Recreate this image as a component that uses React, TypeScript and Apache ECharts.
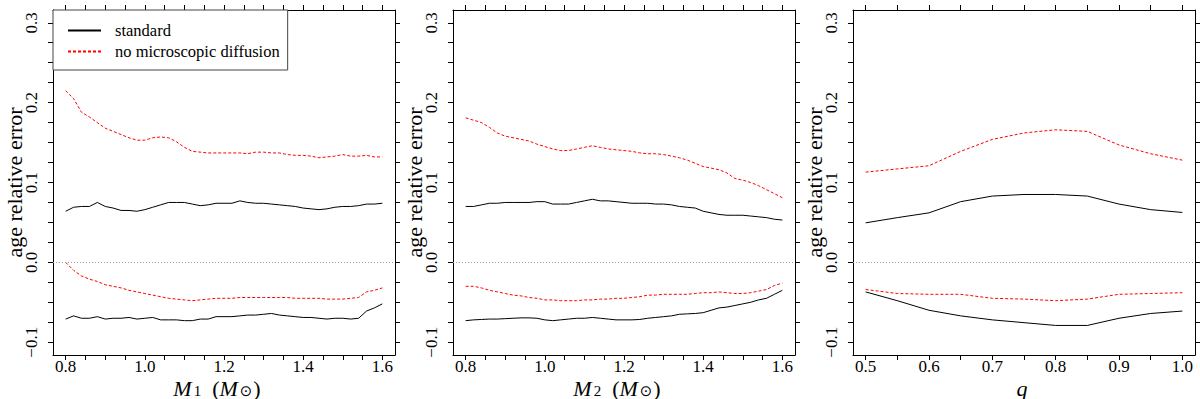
import React, { useEffect, useRef } from "react";
import * as echarts from "echarts";

const massGrid = [0.8, 0.82, 0.84, 0.86, 0.88, 0.9, 0.92, 0.94, 0.96, 0.98, 1.0, 1.02, 1.04, 1.06, 1.08, 1.1, 1.12, 1.14, 1.16, 1.18, 1.2, 1.22, 1.24, 1.26, 1.28, 1.3, 1.32, 1.34, 1.36, 1.38, 1.4, 1.42, 1.44, 1.46, 1.48, 1.5, 1.52, 1.54, 1.56, 1.58, 1.6];
const qGrid = [0.5, 0.55, 0.6, 0.65, 0.7, 0.75, 0.8, 0.85, 0.9, 0.95, 1.0];

// Panel 1: M1
const m1StdUpper = [0.064, 0.069, 0.070, 0.070, 0.075, 0.070, 0.068, 0.065, 0.065, 0.064, 0.066, 0.069, 0.072, 0.075, 0.075, 0.075, 0.073, 0.071, 0.072, 0.074, 0.074, 0.074, 0.077, 0.075, 0.074, 0.074, 0.073, 0.072, 0.071, 0.070, 0.068, 0.067, 0.066, 0.067, 0.069, 0.070, 0.070, 0.071, 0.073, 0.073, 0.074];
const m1StdLower = [-0.071, -0.067, -0.070, -0.070, -0.068, -0.071, -0.070, -0.070, -0.069, -0.071, -0.070, -0.069, -0.072, -0.072, -0.072, -0.073, -0.073, -0.071, -0.071, -0.068, -0.068, -0.068, -0.067, -0.066, -0.066, -0.065, -0.064, -0.066, -0.067, -0.068, -0.069, -0.069, -0.070, -0.071, -0.070, -0.070, -0.071, -0.070, -0.061, -0.057, -0.052];
const m1NoDiffUpper = [0.215, 0.205, 0.188, 0.182, 0.175, 0.168, 0.164, 0.160, 0.156, 0.153, 0.153, 0.156, 0.157, 0.156, 0.151, 0.144, 0.139, 0.138, 0.137, 0.137, 0.137, 0.137, 0.137, 0.136, 0.138, 0.138, 0.137, 0.137, 0.135, 0.134, 0.134, 0.133, 0.131, 0.132, 0.133, 0.135, 0.133, 0.133, 0.134, 0.132, 0.132];
const m1NoDiffLower = [0.0, -0.010, -0.017, -0.021, -0.024, -0.028, -0.030, -0.032, -0.035, -0.037, -0.039, -0.041, -0.043, -0.045, -0.046, -0.047, -0.048, -0.047, -0.046, -0.045, -0.045, -0.045, -0.044, -0.044, -0.044, -0.044, -0.044, -0.044, -0.044, -0.045, -0.045, -0.045, -0.045, -0.046, -0.046, -0.046, -0.045, -0.044, -0.037, -0.035, -0.032];

// Panel 2: M2
const m2StdUpper = [0.070, 0.070, 0.072, 0.074, 0.074, 0.075, 0.075, 0.075, 0.075, 0.076, 0.076, 0.073, 0.073, 0.073, 0.075, 0.077, 0.079, 0.077, 0.077, 0.076, 0.075, 0.074, 0.074, 0.074, 0.073, 0.073, 0.072, 0.070, 0.069, 0.068, 0.064, 0.062, 0.060, 0.059, 0.059, 0.059, 0.058, 0.057, 0.056, 0.054, 0.053];
const m2StdLower = [-0.073, -0.072, -0.0715, -0.071, -0.071, -0.0705, -0.070, -0.0695, -0.0695, -0.070, -0.072, -0.073, -0.072, -0.071, -0.070, -0.070, -0.069, -0.070, -0.071, -0.072, -0.072, -0.072, -0.0715, -0.070, -0.069, -0.068, -0.067, -0.065, -0.0645, -0.064, -0.063, -0.060, -0.057, -0.056, -0.054, -0.052, -0.050, -0.047, -0.045, -0.040, -0.035];
const m2NoDiffUpper = [0.181, 0.178, 0.175, 0.169, 0.162, 0.158, 0.156, 0.154, 0.152, 0.148, 0.145, 0.142, 0.140, 0.140, 0.142, 0.144, 0.146, 0.144, 0.142, 0.141, 0.140, 0.139, 0.137, 0.136, 0.136, 0.135, 0.133, 0.131, 0.128, 0.124, 0.120, 0.118, 0.116, 0.112, 0.105, 0.103, 0.100, 0.096, 0.091, 0.086, 0.081];
const m2NoDiffLower = [-0.030, -0.030, -0.032, -0.035, -0.037, -0.039, -0.041, -0.042, -0.044, -0.045, -0.047, -0.047, -0.048, -0.048, -0.048, -0.047, -0.047, -0.046, -0.046, -0.045, -0.045, -0.044, -0.043, -0.041, -0.041, -0.040, -0.040, -0.040, -0.040, -0.039, -0.038, -0.038, -0.037, -0.038, -0.039, -0.039, -0.038, -0.036, -0.034, -0.029, -0.026];

// Panel 3: q
const qStdUpper = [0.0495, 0.056, 0.062, 0.076, 0.083, 0.085, 0.085, 0.083, 0.073, 0.066, 0.0625];
const qStdLower = [-0.037, -0.048, -0.060, -0.067, -0.072, -0.0755, -0.079, -0.079, -0.070, -0.064, -0.061];
const qNoDiffUpper = [0.113, 0.117, 0.121, 0.139, 0.154, 0.162, 0.166, 0.164, 0.147, 0.136, 0.128];
const qNoDiffLower = [-0.034, -0.039, -0.040, -0.040, -0.045, -0.046, -0.048, -0.046, -0.040, -0.039, -0.038];

// Tick labels / tick positions
const yLabelValues = [-0.1, 0.0, 0.1, 0.2, 0.3];
const yTickValues = [-0.1, -0.075, -0.05, -0.025, 0.0, 0.025, 0.05, 0.075, 0.1, 0.125, 0.15, 0.175, 0.2, 0.225, 0.25, 0.275, 0.3];
const massLabelValues = [0.8, 1.0, 1.2, 1.4, 1.6];
const massTickValues = [0.8, 0.85, 0.9, 0.95, 1.0, 1.05, 1.1, 1.15, 1.2, 1.25, 1.3, 1.35, 1.4, 1.45, 1.5, 1.55, 1.6];
const qLabelValues = [0.5, 0.6, 0.7, 0.8, 0.9, 1.0];
const qTickValues = [0.5, 0.55, 0.6, 0.65, 0.7, 0.75, 0.8, 0.85, 0.9, 0.95, 1.0];

const STD_NAME = "standard";
const NODIFF_NAME = "no microscopic diffusion";
const FONT = "Liberation Serif, Times New Roman, serif";

export default function App() {
  const ref = useRef<HTMLDivElement>(null);

  useEffect(() => {
    if (!ref.current) return;
    const chart = echarts.init(ref.current, undefined, { renderer: "svg" });

    const lefts = [53, 453, 853];
    const panels = [
      { x: massGrid, ranges: [0.768, 1.632], labels: massLabelValues, ticks: massTickValues,
        series: [m1StdUpper, m1StdLower, m1NoDiffUpper, m1NoDiffLower],
        name: "{i|M}{sub|1}{n|  (}{i|M}{sun|⊙}{n|)}" },
      { x: massGrid, ranges: [0.768, 1.632], labels: massLabelValues, ticks: massTickValues,
        series: [m2StdUpper, m2StdLower, m2NoDiffUpper, m2NoDiffLower],
        name: "{i|M}{sub|2}{n|  (}{i|M}{sun|⊙}{n|)}" },
      { x: qGrid, ranges: [0.48, 1.02], labels: qLabelValues, ticks: qTickValues,
        series: [qStdUpper, qStdLower, qNoDiffUpper, qNoDiffLower],
        name: "{i|q}" },
    ];

    const rich = {
      i: { fontFamily: FONT, fontStyle: "italic", fontSize: 22, color: "#000", lineHeight: 20, verticalAlign: "middle" },
      n: { fontFamily: FONT, fontSize: 22, color: "#000", lineHeight: 20, verticalAlign: "middle" },
      sub: { fontFamily: FONT, fontSize: 15, color: "#000", lineHeight: 11, verticalAlign: "bottom", padding: [0, 0, 0, 2] },
      sun: { fontFamily: "DejaVu Sans", fontSize: 15, color: "#000", lineHeight: 11, verticalAlign: "bottom", padding: [0, 1, 0, 2] },
    };

    const grid: any[] = [];
    const xAxis: any[] = [];
    const yAxis: any[] = [];
    const series: any[] = [];
    const axisLine = { show: true, onZero: false, lineStyle: { color: "#000", width: 1 } };
    const fmtY = (v: number) => (Math.abs(v) < 1e-9 ? "0.0" : v.toFixed(1).replace("-", "\u2212"));

    panels.forEach((p, k) => {
      grid.push({ left: lefts[k], top: 10, width: 342, height: 345, containLabel: false, outerBoundsMode: "none" });
      xAxis.push({
        type: "value", gridIndex: k, position: "bottom", min: p.ranges[0], max: p.ranges[1],
        axisLine, splitLine: { show: false },
        axisTick: { show: true, length: 5, inside: false, customValues: p.ticks, lineStyle: { color: "#000" } },
        axisLabel: { show: true, customValues: p.labels, margin: 3, fontFamily: FONT, fontSize: 17, color: "#000",
          formatter: (v: number) => v.toFixed(1) },
        name: p.name, nameLocation: "middle", nameGap: 23, nameMoveOverlap: false,
        nameTextStyle: { fontFamily: FONT, rich, padding: k < 2 ? [0, 14, 0, 0] : [0, 4, 0, 0] },
      });
      xAxis.push({
        type: "value", gridIndex: k, position: "top", min: p.ranges[0], max: p.ranges[1],
        axisLine, splitLine: { show: false },
        axisTick: { show: true, length: 5, inside: false, customValues: p.ticks, lineStyle: { color: "#000" } },
        axisLabel: { show: false },
      });
      yAxis.push({
        type: "value", gridIndex: k, position: "left", min: -0.116, max: 0.316,
        axisLine, splitLine: { show: false },
        axisTick: { show: true, length: 5, inside: false, customValues: yTickValues, lineStyle: { color: "#000" } },
        axisLabel: { show: true, rotate: 90, customValues: yLabelValues, margin: 13, fontFamily: FONT, fontSize: 17, color: "#000",
          formatter: fmtY },
        name: "age relative error", nameLocation: "middle", nameGap: 28, nameRotate: 90, nameMoveOverlap: false,
        nameTextStyle: { fontFamily: FONT, fontSize: 22, color: "#000" },
      });
      yAxis.push({
        type: "value", gridIndex: k, position: "right", min: -0.116, max: 0.316,
        axisLine, splitLine: { show: false },
        axisTick: { show: true, length: 5, inside: false, customValues: yTickValues, lineStyle: { color: "#000" } },
        axisLabel: { show: false },
      });

      const xi = k * 2;
      const yi = k * 2;
      const mk = (name: string, vals: number[], color: string, type: any, withZero: boolean) => {
        const s: any = {
          type: "line", name, xAxisIndex: xi, yAxisIndex: yi,
          data: p.x.map((xv, i) => [xv, vals[i]]),
          showSymbol: false, symbol: "none", smooth: false,
          lineStyle: { color, width: 1, type },
          itemStyle: { color },
          silent: true, z: 3,
        };
        if (withZero) {
          s.markLine = {
            silent: true, symbol: "none", animation: false,
            label: { show: false },
            lineStyle: { color: "#9a9a9a", width: 1, type: [1, 2] },
            data: [{ yAxis: 0 }],
          };
        }
        return s;
      };
      series.push(mk(STD_NAME, p.series[0], "#000000", "solid", true));
      series.push(mk(STD_NAME, p.series[1], "#000000", "solid", false));
      series.push(mk(NODIFF_NAME, p.series[2], "#ff0000", [3, 2], false));
      series.push(mk(NODIFF_NAME, p.series[3], "#ff0000", [3, 2], false));
    });

    chart.setOption({
      animation: false,
      backgroundColor: "#ffffff",
      textStyle: { fontFamily: FONT },
      grid,
      xAxis,
      yAxis,
      series,
      legend: {
        show: true,
        data: [STD_NAME, NODIFF_NAME],
        orient: "vertical",
        left: 53,
        top: 10,
        padding: [12, 8, 10, 14],
        itemGap: 4,
        itemWidth: 33,
        itemHeight: 14,
        backgroundColor: "#ffffff",
        borderColor: "#444",
        borderWidth: 1,
        borderRadius: 0,
        selectedMode: false,
        itemStyle: { opacity: 0 },
        textStyle: { fontFamily: FONT, fontSize: 16.5, color: "#000", padding: [0, 0, 0, 9] },
      },
    });

    return () => chart.dispose();
  }, []);

  return (
    <div
      ref={ref}
      style={{ position: "fixed", left: 0, top: 0, width: 1200, height: 399, background: "#fff" }}
    />
  );
}
